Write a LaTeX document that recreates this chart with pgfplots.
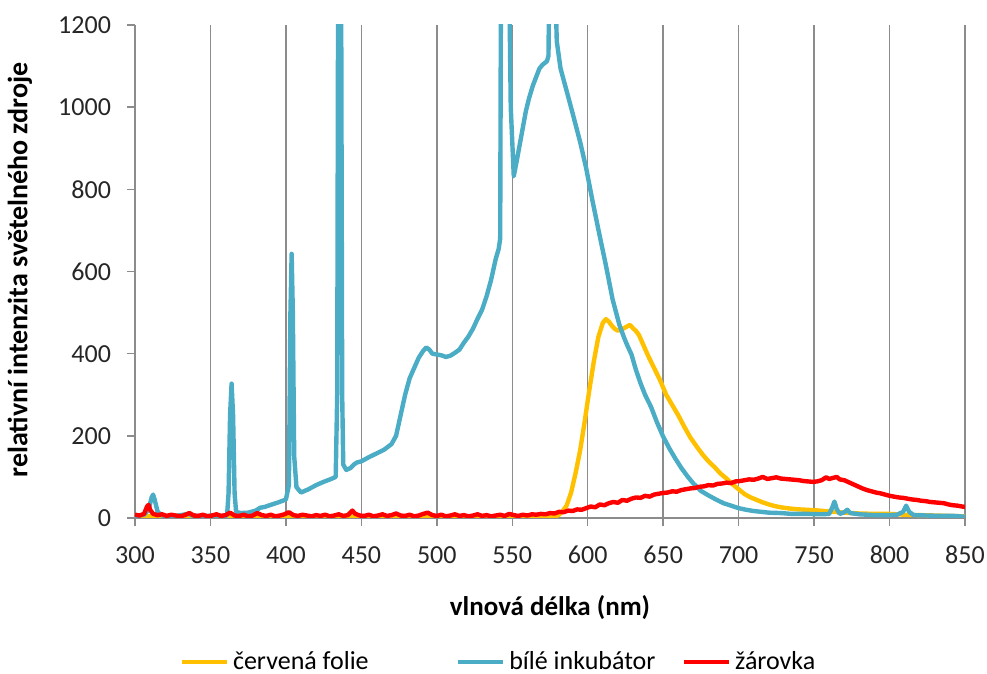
\documentclass[border=0pt]{standalone}
\usepackage{fontspec}
\setmainfont{Carlito}
\usepackage{pgfplots}
\pgfplotsset{compat=1.18}
\definecolor{cyel}{HTML}{FFC000}
\definecolor{cblu}{HTML}{4BACC6}
\definecolor{cred}{HTML}{FF0000}
\definecolor{cgrid}{HTML}{8C8C8C}
\begin{document}
\begin{tikzpicture}
\useasboundingbox (-67.5pt,-78pt) rectangle (426pt,259pt);
\begin{axis}[
  at={(0,0)}, anchor=south west,
  scale only axis, width=415pt, height=246.5pt,
  xmin=300, xmax=850, ymin=0, ymax=1200,
  xtick={300,350,...,850}, ytick={0,200,...,1200},
  axis x line*=bottom, axis y line*=left,
  axis line style={cgrid, line width=0.7pt},
  tick style={cgrid, line width=0.7pt},
  tick align=outside, major tick length=4pt,
  xmajorgrids, grid style={cgrid, line width=0.7pt},
  /pgf/number format/assume math mode=true,
  /pgf/number format/1000 sep={},
  tick label style={font=\fontsize{13}{15}\selectfont, text=black!85},
  xticklabel style={anchor=center, yshift=-14.5pt},
  yticklabel style={anchor=east, xshift=-4.5pt},
  label style={font=\fontsize{13.5}{16}\selectfont\bfseries, text=black},
  xlabel={vlnová délka (nm)},
  ylabel={relativní intenzita světelného zdroje},
  xlabel style={at={(axis description cs:0.5,-0.1826)}, anchor=center},
  ylabel style={at={(axis description cs:-0.1386,0.503)}, anchor=center, font=\fontsize{14}{16}\selectfont\bfseries},
  legend style={at={(axis description cs:0.439,-0.292)}, anchor=center, draw=none,
    font=\fontsize{13}{15}\selectfont, legend columns=3,
    /tikz/column 2/.style={column sep=41.5pt},
    /tikz/column 4/.style={column sep=11pt}},
  legend image code/.code={\draw[#1, line width=2.3pt] (0pt,0pt) -- (22.5pt,0pt);},
  every axis plot/.append style={line width=2.2pt, line join=round, mark=none},
]
\addplot[cyel] coordinates {
(300,3)(310,4)(320,3)(330,4)(340,3)(350,3)(360,4)(370,3)(380,3)(390,4)(400,3)(410,3)(420,4)(430,3)(440,3)(450,4)(460,3)(470,3)(480,3)(490,4)(500,3)(510,3)(520,3)(530,4)(540,3)(550,3)(560,3)(570,3)(578,3)
(581,8)(583,15)(586,30)(589,62)(592,110)(595,165)(598,235)(601,310)(604,380)(607,440)(610,475)(612,484)(614,478)(616,468)(618,460)(620,456)(623,460)(626,466)(628,470)(630,462)(632,455)(634,445)(637,420)(640,395)(644,365)(648,335)(652,300)(656,275)(660,250)(664,222)(668,196)(672,175)(676,155)(680,138)(684,124)(688,108)(692,96)(696,82)(700,70)(704,58)(708,50)(712,44)(716,38)(720,33)(724,29)(728,26)(734,23)(740,21)(750,19)(760,16)(770,13)(780,11)(790,10)(800,10)(810,8)(820,7)(830,6)(840,5)(850,4)
};
\addlegendentry{červená folie}
\addplot[cblu] coordinates {
(300,5)(303,6)(306,8)(309,20)(311,50)(312,57)(313,45)(315,15)(318,6)(322,5)(327,5)(332,8)(335,10)(338,6)(343,5)(348,5)(353,6)(358,5)(361,6)(362,60)(363,250)(364,327)(365,250)(366,60)(367,15)(370,12)(375,13)(380,18)(383,25)(386,27)(390,32)(395,38)(400,45)(402,80)(403,500)(403.8,643)(404.6,500)(405.5,150)(407,75)(410,62)(415,70)(420,80)(425,88)(430,95)(433,100)(434,300)(434.6,1300)(436.6,1300)(437.3,300)(438,130)(440,117)(443,122)(445,130)(447,135)(450,138)(455,148)(460,157)(465,166)(470,180)(473,200)(476,250)(479,300)(482,340)(485,365)(488,390)(491,407)(493,415)(495,410)(497,400)(500,398)(503,396)(506,392)(509,395)(512,402)(515,410)(518,427)(521,442)(524,461)(527,485)(530,507)(533,540)(536,580)(539,630)(541,655)(542,680)(542.5,1300)(548,1300)(549,1000)(551,832)(553,870)(555,910)(557,950)(559,990)(561,1020)(563.6,1052)(566,1075)(568,1094)(570,1103)(573,1112)(574,1125)(574.5,1300)(578.5,1300)(579.5,1160)(582,1094)(586,1040)(590,985)(595,915)(599,851)(603,775)(607.7,691)(612,616)(616.5,532)(621,470)(624,440)(626,422)(629,398)(632,360)(635,328)(638,300)(642,270)(646,232)(650,198)(654,170)(658,145)(662,122)(666,102)(670,84)(675,66)(680,55)(685,45)(690,36)(695,30)(700,24)(705,20)(710,17)(715,15)(720,13)(728,12)(735,10)(745,10)(755,9)(760,10)(762,25)(763.5,40)(765,22)(767,10)(770,14)(772,20)(774,12)(780,9)(790,7)(800,7)(805,8)(809,15)(811,30)(813,15)(816,7)(825,6)(835,5)(843,5)(850,3)
};
\addlegendentry{bílé inkubátor}
\addplot[cred] coordinates {
(300,8)(303,6)(306,10)(308,28)(309,32)(310,20)(312,10)(315,7)(318,9)(321,5)(324,8)(327,6)(330,4)(333,7)(336,12)(339,6)(342,5)(345,8)(348,4)(351,6)(354,9)(357,5)(360,7)(363,13)(366,6)(369,5)(372,8)(375,4)(378,6)(381,12)(384,7)(387,5)(390,8)(393,4)(396,6)(399,9)(402,14)(405,7)(408,5)(411,8)(414,6)(417,4)(420,7)(423,5)(426,8)(429,4)(432,6)(435,9)(438,5)(441,7)(444,18)(446,10)(449,6)(452,5)(455,8)(458,4)(461,6)(464,9)(467,5)(470,7)(473,11)(476,6)(479,5)(482,8)(485,4)(488,6)(491,10)(494,13)(497,7)(500,5)(503,8)(506,4)(509,6)(512,9)(515,5)(518,7)(521,4)(524,6)(527,9)(530,5)(533,7)(536,4)(539,6)(542,8)(545,5)(548,10)(551,7)(554,5)(557,8)(560,6)(563,9)(566,8)(569,10)(572,9)(575,12)(578,11)(581,15)(584,14)(587,18)(590,17)(593,21)(596,20)(599,24)(602,28)(605,26)(608,33)(611,31)(614,36)(617,39)(620,37)(623,44)(626,42)(629,47)(632,50)(635,49)(638,54)(641,52)(644,57)(647,59)(650,61)(653,62)(656,65)(659,64)(662,68)(665,70)(668,72)(671,73)(674,76)(677,77)(680,80)(683,79)(686,83)(689,84)(692,86)(695,85)(698,89)(701,90)(704,92)(707,94)(710,93)(713,96)(716,100)(719,95)(722,97)(725,99)(728,96)(731,95)(734,94)(737,93)(740,92)(743,90)(746,89)(749,88)(752,89)(755,92)(758,99)(760,95)(762,97)(765,100)(767,94)(770,92)(773,87)(776,82)(779,77)(782,72)(785,68)(788,65)(791,62)(794,60)(797,57)(800,54)(803,52)(806,50)(809,49)(812,47)(815,45)(818,44)(821,42)(824,41)(827,39)(830,38)(833,37)(836,36)(839,33)(842,31)(845,30)(848,28)(850,27)
};
\addlegendentry{žárovka}
\end{axis}
\end{tikzpicture}
\end{document}
